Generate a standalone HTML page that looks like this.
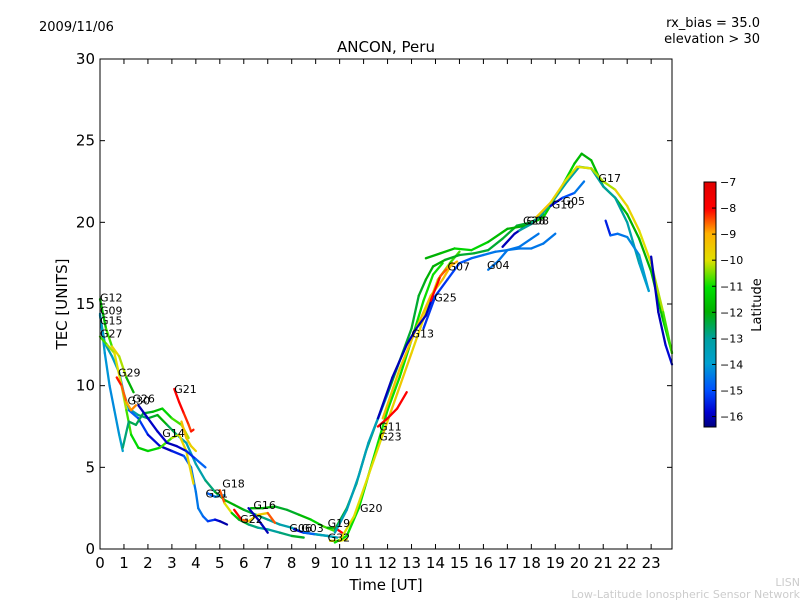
<!DOCTYPE html>
<html><head><meta charset="utf-8"><style>
body{margin:0;background:#fff;font-family:"Liberation Sans","DejaVu Sans",sans-serif}
svg text{font-family:"DejaVu Sans","Liberation Sans",sans-serif}
</style></head><body>
<svg id="chart" width="800" height="600" xmlns="http://www.w3.org/2000/svg">
<defs><linearGradient id="jet" x1="0" y1="1" x2="0" y2="0">
<stop offset="0" stop-color="#00007f"/><stop offset="0.06" stop-color="#0000d0"/><stop offset="0.15" stop-color="#0050ff"/><stop offset="0.26" stop-color="#00a0d0"/><stop offset="0.36" stop-color="#00a0a0"/><stop offset="0.47" stop-color="#00b000"/><stop offset="0.57" stop-color="#00e000"/><stop offset="0.68" stop-color="#e0e000"/><stop offset="0.79" stop-color="#ffb000"/><stop offset="0.89" stop-color="#ff0000"/><stop offset="1" stop-color="#e00000"/></linearGradient></defs>
<text x="39" y="31" font-size="13">2009/11/06</text>
<text x="760" y="27" font-size="13" text-anchor="end">rx_bias = 35.0</text>
<text x="760" y="43" font-size="13" text-anchor="end">elevation &gt; 30</text>
<text x="386" y="52" font-size="15" text-anchor="middle">ANCON, Peru</text>
<text x="386" y="590" font-size="15" text-anchor="middle">Time [UT]</text>
<text transform="translate(67,304) rotate(-90)" font-size="15" text-anchor="middle">TEC [UNITS]</text>
<g id="plot"></g>
<rect x="100" y="59" width="572" height="490" fill="none" stroke="#000" stroke-width="1"/>
<g id="axes"></g>
<rect x="704" y="182" width="12" height="245" fill="url(#jet)" stroke="#000" stroke-width="1"/>
<g id="cbar"></g>
<text transform="translate(761,305) rotate(-90)" font-size="13" text-anchor="middle">Latitude</text>
<text x="800" y="586" font-size="11" fill="#ccc" text-anchor="end">LISN</text>
<text x="800" y="598" font-size="11" fill="#ccc" text-anchor="end">Low-Latitude Ionospheric Sensor Network</text>
</svg>
<script>
const xTicks=[0,1,2,3,4,5,6,7,8,9,10,11,12,13,14,15,16,17,18,19,20,21,22,23];
const yTicks=[0,5,10,15,20,25,30];
const latTicks=[-7,-8,-9,-10,-11,-12,-13,-14,-15,-16];
const trackNames=["G12","G09","G15","G15b","G27","G29","G26","G21","G21b","G14","G31","G18","G22","G16","G16b","G06","G19","G32","G20","G20b","G11a","G11b","G11","G23","G13","G25","G07","G04","G04b","G08","G28","G10","G17","G17b","G17c"];
const trackTimes=[
[0,0.25,0.5,0.8,1.1,1.4],
[0,0.2,0.5,0.8,1.0,1.2,1.6,2.0,2.4,2.8,3.2,3.6,4.0,4.4,4.8,5.2,5.6,6.0,6.5,7.0,7.5,8.0,8.5,9.0,9.5,9.9],
[0,0.2,0.4,0.6,0.8,0.95],
[1.2,1.6,2,2.5,3,3.5,3.8,4.0,4.1,4.3,4.5,4.8,5.0,5.3],
[0,0.3,0.6,0.9,1.1,1.3,1.6,2.0,2.5,3.0,3.3,3.6,3.9],
[0.7,0.9,1.1,1.3,1.5],
[0.95,1.2,1.5,1.8,2.2,2.6,3.0,3.4,3.7],
[3.1,3.3,3.5,3.7,3.8,3.9],
[3.4,3.6,3.8,4.0],
[1.6,2.0,2.4,2.8,3.2,3.6,4.0,4.4],
[4.5,4.8,5.2],
[5.0,5.2,5.5,5.8,6.2,6.6,7.0,7.5,8.0,8.5],
[5.6,5.9,6.2,6.6,7.0,7.3],
[6.3,6.8,7.3,7.8,8.3,8.8,9.3,9.8],
[6.2,6.6,7.0],
[8.1,8.5,9.0,9.5],
[9.5,9.8,10.1],
[9.6,10.0,10.3],
[9.8,10.3,10.8,11.2,11.6,12.0,12.5,13.0,13.5,13.9,14.3],
[10.0,10.6,11.2,11.8,12.4,13,13.6,14.1,14.6,15.0],
[9.8,10.3,10.7,11.1,11.5,12,12.5,13,13.3,13.6,13.9,14.4,15,15.6,16.2,16.8,17.4,18,18.5],
[9.8,10.3,10.8,11.2,11.6,12.0],
[11.6,12,12.4,12.8],
[11.8,12.5,13.2,13.8,14.3,14.7],
[11.6,12.2,12.8,13.2,13.6,13.9],
[13.5,14,14.5,15,15.5,16,16.5,17,17.5,18,18.3],
[13.8,14.2,14.5,14.9],
[16.2,16.6,17,17.5,18,18.5,19],
[16.8,17.3,17.8],
[13.6,14.2,14.8,15.5,16.2,17,17.8,18.5,19.2,19.8,20.1,20.5,21,21.5,22,22.5,23,23.5,23.87],
[17.5,18,18.5,19,19.5,20,20.5,21,21.5,22,22.5,22.9],
[18.8,19.3,19.8,20.2],
[18.2,18.8,19.4,19.9,20.5,21,21.5,22,22.5,23,23.5,23.87],
[21.1,21.3,21.6,22,22.5,22.9],
[23,23.3,23.6,23.87]];
const trackTec=[
[15.3,13.5,12.4,11.8,10.5,9.6],
[14.3,12.6,11.8,10.8,9.5,8.6,8.2,8.0,8.2,7.6,7.0,6.5,5.2,4.2,3.5,3.0,2.7,2.4,2.1,1.8,1.5,1.3,1.0,0.9,0.8,0.7],
[14.4,12,10,8.5,7,6],
[8.5,8,7,6.3,6,5.7,5,3.5,2.5,2,1.7,1.8,1.7,1.5],
[13,12.5,12,10,8.5,7,6.2,6,6.2,6.8,7.0,6.0,4.0],
[10.5,10.0,9,8.5,8.8],
[6.2,7.8,7.6,8.3,8.4,8.6,8.0,7.6,6.8],
[9.8,9,8.3,7.6,7.2,7.3],
[7.8,6.8,6.3,6.0],
[8.8,8.0,7.2,6.5,6.3,6.0,5.5,5.0],
[3.4,3.2,3.3],
[3.6,2.8,2.2,1.8,1.5,1.3,1.2,1.0,0.8,0.7],
[2.4,1.8,1.7,2.1,2.2,1.6],
[2.5,2.5,2.6,2.4,2.1,1.8,1.4,1.1],
[2.5,1.8,1.0],
[1.2,1.0,0.9,0.8],
[1.3,1.3,1.0],
[0.5,0.5,0.6],
[0.4,0.8,2.5,4.5,6.5,8.5,10.5,12.8,15.2,16.8,17.5],
[0.5,2,4.5,7,9.5,12,14.5,16.5,17.5,18.2],
[1.2,2.5,4,6,7.6,9.5,11.5,13.5,15.5,16.5,17.3,17.7,18,18.1,18.3,19.0,19.8,20.0,20.5],
[1,2.4,4.5,6.5,8,9.5],
[7.5,8,8.6,9.6],
[8,11,13.5,15.5,16.5,17.5],
[8.0,10.5,12.5,13.5,14.3,15.5],
[13.5,15.5,16.5,17.5,17.8,18,18.2,18.3,18.5,19,19.3],
[15.2,16.7,17.2,17.6],
[17.1,17.6,18.3,18.4,18.4,18.7,19.3],
[18.5,19.3,19.8],
[17.8,18.1,18.4,18.3,18.8,19.6,19.8,20.3,22.0,23.6,24.2,23.8,22.2,21.5,20.5,19.0,17.0,14.0,12.0],
[19.5,19.9,20.6,21.5,22.5,23.4,23.3,22.2,21.5,20.0,17.5,15.8],
[21.0,21.5,21.8,22.5],
[20.3,21.2,22.5,23.4,23.3,22.5,22,21,19.5,17.5,14.5,12.0],
[20.1,19.2,19.3,19.1,18.0,15.8],
[17.9,14.5,12.5,11.3]];
const trackLat=[
[-12,-11.5,-10,-9.5,-11,-13],
[-13,-13,-13.5,-14,-14,-13.5,-13,-12.5,-12,-12,-13,-13.5,-13.5,-13,-12.5,-12,-12,-12,-12.5,-13,-13,-13.5,-13.5,-13.5,-13.5,-13.5],
[-14,-14,-14.2,-14.3,-14,-13.8],
[-14.5,-15,-15.5,-16,-16,-15,-14.5,-14.5,-14.5,-14.5,-15,-15.5,-16,-16.2],
[-11,-10.5,-10,-10,-10.5,-11,-11.3,-11.5,-11,-10.5,-10,-9.5,-10],
[-8,-8.3,-8.8,-9,-8.5],
[-13,-12.5,-12.5,-12.5,-12,-11.5,-11,-10.5,-10],
[-8,-8,-8,-8.5,-8.3,-8],
[-9,-9.5,-9.5,-9.8],
[-16,-16,-15.8,-16,-16,-15.8,-15,-14.5],
[-15,-14.5,-14],
[-8,-9,-11,-12,-12.5,-13,-13,-13,-12.5,-12],
[-8,-8,-9,-10,-9,-8],
[-12,-12,-12,-12.5,-12,-11.5,-11,-10.5],
[-16,-16,-16],
[-16,-15.5,-14,-13],
[-16,-8,-8],
[-10,-10,-10],
[-11,-11,-11,-11,-11,-11,-11,-11,-11,-11,-11],
[-10,-10,-10,-9.8,-9.5,-9.5,-10,-10,-10.5,-11],
[-12.3,-12.3,-12.3,-12.3,-12.3,-12.3,-12.3,-12.3,-12.3,-12,-12,-12,-12.3,-12.3,-12.3,-12.3,-12.3,-12.3,-12.3],
[-13.5,-13.5,-13.5,-13.5,-13.5,-13.5],
[-8,-8,-8,-8],
[-9.3,-9.3,-9.3,-9.3,-9.3,-9.3],
[-16,-16,-16,-16,-16,-16],
[-15.3,-15.3,-15.3,-15,-14.8,-14.5,-14.5,-14.5,-14.5,-14.5,-14.5],
[-8,-8,-9,-9],
[-14.5,-14.5,-14.5,-14.5,-14.5,-14.5,-14.5],
[-16,-16,-16],
[-12,-12,-11.5,-11,-11.5,-12,-12,-11.5,-11,-11.5,-12,-12,-11.5,-11.5,-12,-12,-12,-11.5,-11],
[-13,-13,-13,-13,-13,-13,-13,-13,-13,-13,-13.5,-14],
[-16,-15.5,-14.5,-14.5],
[-9.5,-9.5,-10,-10,-10,-10.5,-10,-9.5,-10,-10,-10.5,-11],
[-16,-15,-14.5,-14.5,-14,-14],
[-16,-16,-16,-15.5]];
const labelNames=["G12","G09","G15","G27","G29","G30","G26","G21","G14","G18","G31","G16","G22","G06","G03","G19","G32","G20","G11","G23","G13","G25","G07","G04","G28","G08","G10","G05","G17"];
const labelTime=[0,0,0,0,0.75,1.15,1.35,3.1,2.6,5.1,4.4,6.4,5.85,7.9,8.4,9.5,9.5,10.85,11.65,11.65,13.0,13.95,14.5,16.15,17.65,17.8,18.85,19.3,20.8];
const labelTec=[15.4,14.6,14.0,13.2,10.8,9.1,9.2,9.8,7.1,4.0,3.4,2.7,1.85,1.3,1.3,1.6,0.7,2.5,7.5,6.9,13.2,15.4,17.3,17.4,20.1,20.1,21.1,21.3,22.7];

const X0=100,X1=672,Y0=549,Y1=59,XMAX=23.87,YMAX=30;
const xs=t=>X0+t/XMAX*(X1-X0);
const ys=v=>Y0-v/YMAX*(Y0-Y1);
const LMIN=-16.4,LMAX=-7;
const cy=l=>427-(l-LMIN)/(LMAX-LMIN)*245;
const stops=[[0,[0,0,127]],[0.06,[0,0,208]],[0.15,[0,80,255]],[0.26,[0,160,208]],[0.36,[0,160,160]],[0.47,[0,176,0]],[0.57,[0,224,0]],[0.68,[224,224,0]],[0.79,[255,176,0]],[0.89,[255,0,0]],[1,[224,0,0]]];
function jet(l){let f=(l-LMIN)/(LMAX-LMIN);f=Math.max(0,Math.min(1,f));
for(let i=1;i<stops.length;i++){if(f<=stops[i][0]){const a=stops[i-1],b=stops[i],k=(f-a[0])/(b[0]-a[0]);
const c=a[1].map((v,j)=>Math.round(v+(b[1][j]-v)*k));return `rgb(${c})`;}}return 'rgb(224,0,0)';}
const NS='http://www.w3.org/2000/svg';
function mk(tag,attrs,parent){const e=document.createElementNS(NS,tag);for(const k in attrs)e.setAttribute(k,attrs[k]);parent.appendChild(e);return e;}
const plot=document.getElementById('plot');
trackNames.forEach((nm,i)=>{
  const g=mk('g',{},plot);
  
  
  const T=trackTimes[i],V=trackTec[i],L=trackLat[i];
  for(let j=0;j<T.length-1;j++){
    const s=mk('line',{x1:xs(T[j]),y1:ys(V[j]),x2:xs(T[j+1]),y2:ys(V[j+1]),stroke:jet((L[j]+L[j+1])/2),'stroke-width':2.3,'stroke-linecap':'round'},g);
    
    
  }
});
labelNames.forEach((nm,i)=>{
  const t=mk('text',{x:xs(labelTime[i]),y:ys(labelTec[i])+4,'font-size':11},plot);
  t.textContent=nm;
  
  
});
const ax=document.getElementById('axes');
xTicks.forEach(v=>{
  const x=xs(v);
  const a=mk('line',{x1:x,y1:Y0,x2:x,y2:Y0-5,stroke:'#000'},ax);
  
  
  const b=mk('line',{x1:x,y1:Y1,x2:x,y2:Y1+5,stroke:'#000'},ax);
  
  
  const t=mk('text',{x:x,y:568,'font-size':15,'text-anchor':'middle'},ax);
  t.textContent=v;
  
  
});
yTicks.forEach(v=>{
  const y=ys(v);
  const a=mk('line',{x1:X0,y1:y,x2:X0+5,y2:y,stroke:'#000'},ax);
  
  
  const b=mk('line',{x1:X1,y1:y,x2:X1-5,y2:y,stroke:'#000'},ax);
  
  
  const t=mk('text',{x:95,y:y+5,'font-size':15,'text-anchor':'end'},ax);
  t.textContent=v;
  
  
});
const cb=document.getElementById('cbar');
latTicks.forEach(v=>{
  const y=cy(v);
  const a=mk('line',{x1:712,y1:y,x2:716,y2:y,stroke:'#000'},cb);
  
  
  const t=mk('text',{x:720,y:y+4,'font-size':11},cb);
  t.textContent='\u2212'+Math.abs(v);
  
  
});
</script>
</body></html>
